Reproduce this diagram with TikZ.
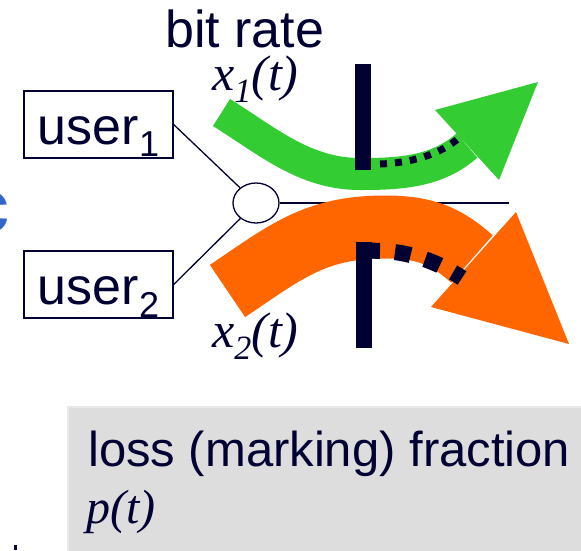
\documentclass[tikz,border=0pt]{standalone}
\usepackage{fontspec}
\setmainfont{Liberation Sans}
\newfontfamily\tms{Liberation Serif}
\usetikzlibrary{shapes.geometric}
\definecolor{navy}{RGB}{0,0,51}
\definecolor{flowgreen}{RGB}{51,204,51}
\definecolor{floworange}{RGB}{255,102,0}
\definecolor{boxgray}{RGB}{221,221,221}
\definecolor{boxedge}{RGB}{232,232,232}
\definecolor{titleblue}{RGB}{51,102,204}
\pgfdeclarelayer{bg}
\pgfdeclarelayer{mid}
\pgfsetlayers{bg,mid,main}
\begin{document}
\begin{tikzpicture}[x=1pt,y=-1pt,
  userbox/.style={draw=navy, line width=1.3pt, minimum width=149pt, minimum height=67pt,
    inner sep=0pt, text height=39pt, text depth=0pt, text=navy, font=\fontsize{52}{52}\selectfont},
  plain/.style={anchor=base west, inner sep=0pt, text=navy},
  serifit/.style={plain, font=\tms\itshape\fontsize{50}{50}\selectfont},
  link/.style={draw=navy, line width=1.3pt},
  bar/.style={fill=navy},
]
\useasboundingbox (0,0) rectangle (581,550);
\clip (0,0) rectangle (581,550);

% gray box
\node[rectangle, fill=boxgray, draw=boxedge, line width=1.5pt, anchor=north west,
  minimum width=530pt, minimum height=160pt, inner sep=0pt] (lossbox) at (67,406) {};
\node[plain, font=\fontsize{49}{49}\selectfont] (loss) at (88,466) {loss (marking) fraction};
\node[plain, font=\tms\itshape\fontsize{48}{48}\selectfont] (pt) at (86,523) {p(t)};

% fragments at the left edge
\node[anchor=base east, inner sep=0pt, text=titleblue, font=\bfseries\fontsize{76}{76}\selectfont] (frag) at (10,232) {c};
\fill[navy] (14,545) rectangle (17,550);

% labels
\node[plain, font=\fontsize{52}{52}\selectfont] (bitrate) at (165,47) {bit rate};
\node[serifit] (x1) at (212,90) {x\raisebox{-12pt}{\fontsize{34}{34}\selectfont 1}(t)};
\node[serifit] (x2) at (212,347) {x\raisebox{-12pt}{\fontsize{34}{34}\selectfont 2}(t)};

% users and hub
\node[userbox] (u1) at (98.5,124.5) {user\raisebox{-12pt}{\fontsize{36}{36}\selectfont 1}};
\node[userbox] (u2) at (98.5,284.5) {user\raisebox{-13pt}{\fontsize{36}{36}\selectfont 2}};
\node[ellipse, draw=navy, line width=1.3pt, fill=white, minimum width=46pt, minimum height=40pt, inner sep=0pt] (hub) at (256,203) {};
\coordinate (lineend) at (509,203);

\begin{pgfonlayer}{bg}
  \draw[link] (u1.east) -- (hub);
  \draw[link] (u2.east) -- (hub);
  \draw[link] (hub.east) -- (lineend);
\end{pgfonlayer}

\begin{pgfonlayer}{mid}
  % orange flow
  \coordinate (o0) at (227.5,291);
  \coordinate (o1) at (385,227);
  \coordinate (o2) at (472,259);
  \draw[floworange, line width=63pt] (o0) .. controls (285.6,251.8) and (315,227) .. (o1)
     .. controls (425,227) and (445.8,235.8) .. (o2);
  \fill[floworange] (569,344) -- (516,212) -- (431,307) -- cycle;
  \fill[navy] (356,242) rectangle (372,348);
  \draw[navy, line width=16pt, dash pattern=on 16pt off 15pt] (364,251) .. controls (400,249) and (432,258) .. (462,278);

  % green flow
  \coordinate (g0) at (221.5,112.5);
  \coordinate (g1) at (360,174);
  \coordinate (g2) at (467,145.5);
  \draw[flowgreen, line width=32pt] (g0) .. controls (268,141.6) and (305,174) .. (g1)
     .. controls (400,174) and (437,172) .. (g2);
  \fill[flowgreen] (538,82) -- (435,110) -- (499,180) -- cycle;
  \fill[navy] (355,64) rectangle (371,170);
  \draw[navy, line width=7pt, dash pattern=on 7pt off 8pt] (380,164) .. controls (410,163) and (440,155) .. (460,137);
\end{pgfonlayer}
\end{tikzpicture}
\end{document}
